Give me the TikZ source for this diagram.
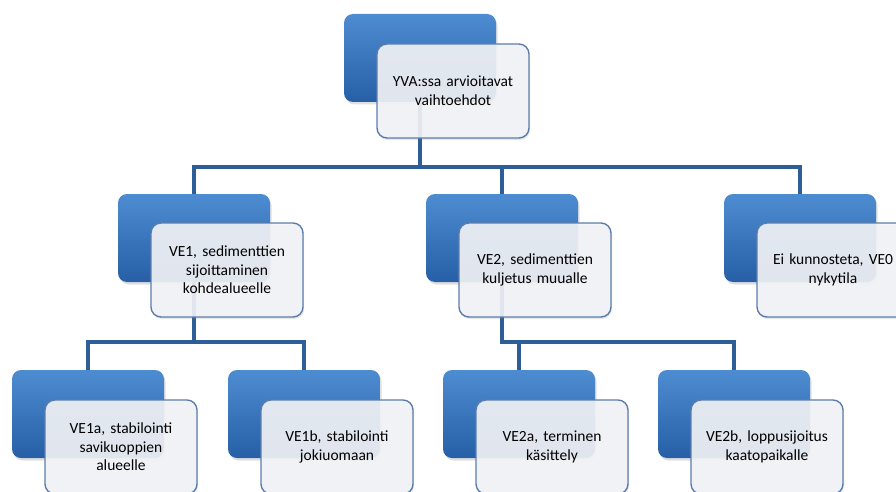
\documentclass[tikz,border=0pt]{standalone}
\usepackage{fontspec}
\setmainfont{Carlito}
\usetikzlibrary{shadows,backgrounds}
\definecolor{boxtop}{RGB}{78,140,210}
\definecolor{boxmid}{RGB}{47,109,184}
\definecolor{boxbot}{RGB}{38,95,166}
\definecolor{edgeblue}{RGB}{92,125,172}
\definecolor{paper}{RGB}{243,244,247}
\definecolor{linkblue}{RGB}{46,94,152}
\begin{document}
\begin{tikzpicture}[x=1pt,y=1pt,
    back/.style={rectangle,rounded corners=9pt,minimum width=152pt,minimum height=88pt,
        top color=boxtop,middle color=boxmid,bottom color=boxbot,
        drop shadow={opacity=0.25,shadow xshift=1.5pt,shadow yshift=-2.5pt}},
    front/.style={rectangle,rounded corners=10pt,minimum width=152pt,minimum height=94pt,
        draw=edgeblue,line width=1.4pt,fill=paper,fill opacity=0.9,text opacity=1,
        text width=140pt,align=center,inner sep=0pt,
        font=\fontsize{15.5}{18.6}\selectfont,text=black,
        drop shadow={opacity=0.2,shadow xshift=1pt,shadow yshift=-2pt}},
    link/.style={draw=linkblue,line width=4.5pt}]
    \useasboundingbox (0,0) rectangle (896,-492);
    \coordinate (busA) at (0,-167);
    \coordinate (busB) at (0,-342);

    \node[back] (yvaB) at (420,-58) {};
    \node[front] (yva) at (453,-91) {YVA:ssa arvioitavat\\vaihtoehdot};

    \node[back] (veiB) at (194,-238) {};
    \node[front] (vei) at (227,-270) {VE1, sedimenttien\\sijoittaminen\\kohdealueelle};
    \node[back] (veiiB) at (502,-238) {};
    \node[front] (veii) at (535,-270) {VE2, sedimenttien\\kuljetus muualle};
    \node[back] (vezB) at (800,-238) {};
    \node[front] (vez) at (833,-270) {Ei kunnosteta, VE0\\nykytila};

    \node[back] (veiaB) at (88,-414) {};
    \node[front] (veia) at (121,-447) {VE1a, stabilointi\\savikuoppien\\alueelle};
    \node[back] (veibB) at (304,-414) {};
    \node[front] (veib) at (337,-447) {VE1b, stabilointi\\jokiuomaan};
    \node[back] (veiiaB) at (519,-414) {};
    \node[front] (veiia) at (552,-447) {VE2a, terminen\\k\"asittely};
    \node[back] (veiibB) at (734,-414) {};
    \node[front] (veiib) at (767,-447) {VE2b, loppusijoitus\\kaatopaikalle};

    \begin{scope}[on background layer]
        \draw[link] (yvaB.center) -- (yvaB.center |- busA);
        \draw[link] (veiB.north) -- (veiB.north |- busA) -| (vezB.north);
        \draw[link] (veiiB.north) -- (veiiB.north |- busA);
        \draw[link] (veiB.center) -- (veiB.center |- busB);
        \draw[link] (veiaB.north) -- (veiaB.north |- busB) -| (veibB.north);
        \draw[link] (veiiB.center) |- (veiibB.north |- busB) -- (veiibB.north);
        \draw[link] (veiiaB.north) -- (veiiaB.north |- busB);
    \end{scope}
\end{tikzpicture}
\end{document}
